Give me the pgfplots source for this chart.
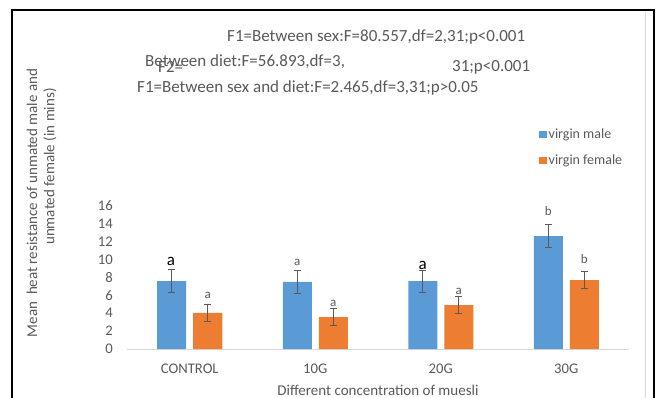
\documentclass[border=0pt]{standalone}
\usepackage{pgfplots}
\pgfplotsset{compat=1.18}
\usepackage{pgfplotstable}
\usepackage{fontspec}
\setmainfont{Carlito}
\definecolor{mblue}{HTML}{5B9BD5}
\definecolor{morange}{HTML}{ED7D31}
\definecolor{tgray}{HTML}{595959}
\definecolor{lgray}{HTML}{D9D9D9}
\definecolor{egray}{HTML}{5A5A5A}
\newcommand\ftitle{\fontsize{17bp}{20bp}\selectfont}
\newcommand\flabel{\fontsize{15bp}{18bp}\selectfont}
\newcommand\ftick{\fontsize{14.7bp}{17bp}\selectfont}
\newcommand\fsmall{\fontsize{13bp}{15bp}\selectfont}
\newcommand\fbig{\fontsize{17bp}{19bp}\selectfont}

\pgfplotstableread{
x y e
0 7.60 1.30
1 7.50 1.30
2 7.60 1.25
3 12.64 1.27
}\male
\pgfplotstableread{
x y e
0 4.03 0.95
1 3.58 0.93
2 4.92 0.93
3 7.72 0.95
}\female

\begin{document}
\begin{tikzpicture}
\useasboundingbox (-127bp,-49bp) rectangle (529bp,349bp);
\begin{axis}[
 at={(0,0)}, anchor=south west,
 scale only axis, width=502bp, height=143bp,
 xmin=-0.5, xmax=3.5, ymin=0, ymax=16,
 ybar=7bp, bar width=29bp,
 axis x line*=bottom, axis y line*=left,
 y axis line style={draw=none},
 x axis line style={lgray, line width=1bp},
 xtick={0,1,2,3}, xticklabels={CONTROL,10G,20G,30G},
 ytick={0,2,...,16},
 major tick length=0,
 tick label style={font=\ftick, text=tgray},
 /pgf/number format/assume math mode=true,
 yticklabel style={anchor=east, inner sep=0pt, xshift=-14bp},
 xticklabel style={anchor=north, inner sep=0pt, yshift=-15bp},
 xlabel={Different concentration of muesli},
 xlabel style={at={(axis description cs:0.5,0)}, anchor=base, yshift=-46bp, font=\flabel, text=tgray, inner sep=0pt},
 legend style={at={(axis description cs:0.8207,1.558)}, anchor=north west, draw=none, fill=none, font=\fontsize{14bp}{16bp}\selectfont, text=tgray, row sep=11bp, inner sep=0pt, nodes={inner sep=2bp}},
 legend cell align=left,
 legend image code/.code={\fill[#1] (0bp,-3.5bp) rectangle (7.5bp,3.5bp);},
 clip=false,
]
\addplot[fill=mblue, draw=none, error bars/.cd, y dir=both, y explicit,
  error bar style={egray, line width=0.8bp},
  error mark options={egray, rotate=90, mark size=3.5bp, line width=0.8bp}]
  table[x=x, y=y, y error=e] {\male};
\addplot[fill=morange, draw=none, error bars/.cd, y dir=both, y explicit,
  error bar style={egray, line width=0.8bp},
  error mark options={egray, rotate=90, mark size=3.5bp, line width=0.8bp}]
  table[x=x, y=y, y error=e] {\female};
\legend{virgin male, virgin female}
\node[font=\fbig, text=black] at (axis cs:-0.149,9.84) {a};
\node[font=\fsmall, text=tgray] at (axis cs:0.143,6.04) {a};
\node[font=\fsmall, text=tgray] at (axis cs:0.857,9.73) {a};
\node[font=\fsmall, text=tgray] at (axis cs:1.143,5.15) {a};
\node[font=\fbig, text=black] at (axis cs:1.857,9.40) {a};
\node[font=\fsmall, text=tgray] at (axis cs:2.143,6.49) {a};
\node[font=\fsmall, text=tgray] at (axis cs:2.857,15.44) {b};
\node[font=\fsmall, text=tgray] at (axis cs:3.143,10.07) {b};
\end{axis}
% frame
\draw[black, line width=1.2bp] (-115bp,-60bp) -- (-115bp,339bp) -- (527bp,339bp) -- (527bp,-60bp);
\draw[lgray, line width=1bp] (518bp,337bp) -- (518bp,-60bp);
% titles
\node[anchor=west, font=\ftitle, text=tgray, inner sep=0pt] at (100bp,312bp) {F1=Between sex:F=80.557,df=2,31;p<0.001};
\node[anchor=west, font=\ftitle, text=tgray, inner sep=0pt] at (18bp,287bp) {Between diet:F=56.893,df=3,};
\node[anchor=west, font=\ftitle, text=tgray, inner sep=0pt] at (31bp,282bp) {F2=};
\node[anchor=west, font=\ftitle, text=tgray, inner sep=0pt] at (325bp,282bp) {31;p<0.001};
\node[anchor=west, font=\ftitle, text=tgray, inner sep=0pt] at (10bp,261bp) {F1=Between sex and diet:F=2.465,df=3,31;p>0.05};
% y label
\node[rotate=90, font=\flabel, text=tgray, inner sep=0pt] at (-95bp,146bp) {Mean\ \ heat resistance of unmated male and};
\node[rotate=90, font=\flabel, text=tgray, inner sep=0pt] at (-77bp,182.5bp) {unmated female (in mins)};
\end{tikzpicture}
\end{document}
